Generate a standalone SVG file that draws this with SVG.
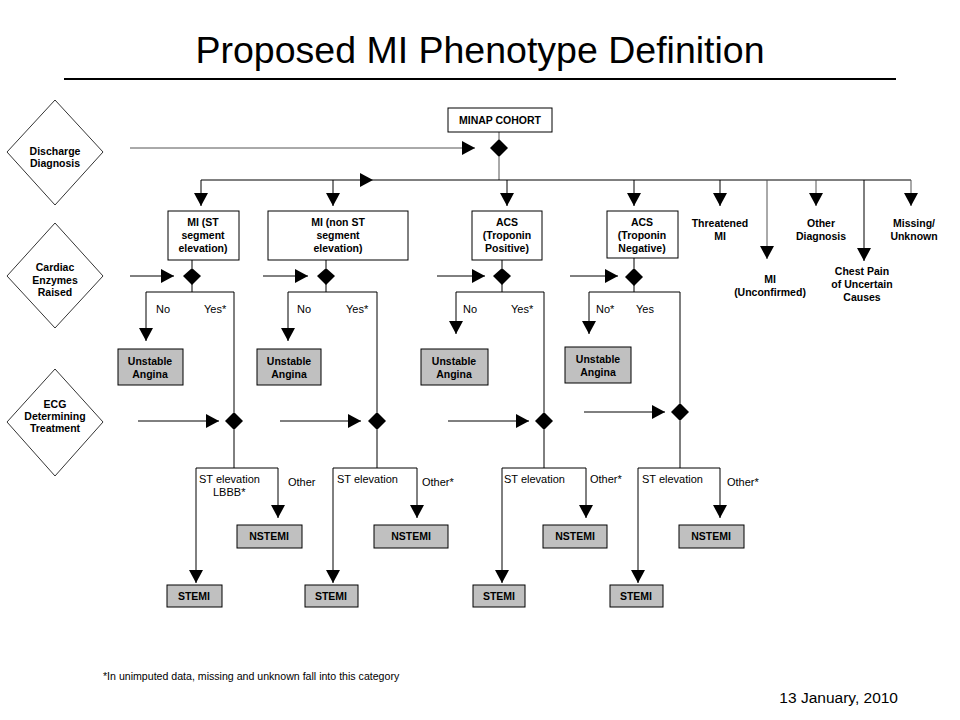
<svg xmlns="http://www.w3.org/2000/svg" width="960" height="720" viewBox="0 0 960 720">
<style>
text{font-family:"Liberation Sans",Arial,sans-serif;fill:#000}
.b{font-weight:bold;font-size:10.5px;text-anchor:middle}
.l{font-size:11px}
.box{fill:#fff;stroke:#000;stroke-width:1}
.g{fill:#c0c0c0;stroke:#000;stroke-width:1}
.dia{fill:#fff;stroke:#000;stroke-width:0.8}
.sd{fill:#000}
.c line,.c path{stroke:#000;stroke-width:1;fill:none}
.c .gr{stroke:#555}
</style>
<defs>
<marker id="a" markerUnits="userSpaceOnUse" markerWidth="13" markerHeight="14" refX="13" refY="7" orient="auto" viewBox="0 0 13 14">
<path d="M0,0 L13,7 L0,14 Z" fill="#000"/>
</marker>
</defs>
<rect width="960" height="720" fill="#fff"/>
<text x="480" y="63" style="font-size:37.5px;text-anchor:middle">Proposed MI Phenotype Definition</text>
<line x1="64" y1="79" x2="896" y2="79" stroke="#000" stroke-width="2"/>

<g id="legend-discharge"><polygon class="dia" points="55,100 103,152 55,205 7,152"/><text class="b" x="55" y="155">Discharge</text><text class="b" x="55" y="167">Diagnosis</text></g>
<g id="legend-enzymes"><polygon class="dia" points="55,223 103,276 55,328 7,276"/><text class="b" x="55" y="271">Cardiac</text><text class="b" x="55" y="284">Enzymes</text><text class="b" x="55" y="296">Raised</text></g>
<g id="legend-ecg"><polygon class="dia" points="55,369 103,422 55,476 7,422"/><text class="b" x="55" y="408">ECG</text><text class="b" x="55" y="420">Determining</text><text class="b" x="55" y="432">Treatment</text></g>

<g class="c" id="connectors">
<line x1="130" y1="148" x2="475" y2="148" class="gr" marker-end="url(#a)"/>
<line x1="499" y1="132" x2="499" y2="139" class="gr"/>
<line x1="499" y1="157" x2="499" y2="180" class="gr"/>
<line x1="201" y1="180" x2="373" y2="180" marker-end="url(#a)"/>
<line x1="373" y1="180" x2="911" y2="180"/>
<line x1="201" y1="180" x2="201" y2="206" marker-end="url(#a)"/>
<line x1="333" y1="180" x2="333" y2="206" marker-end="url(#a)"/>
<line x1="507" y1="180" x2="507" y2="206" marker-end="url(#a)"/>
<line x1="634" y1="180" x2="634" y2="206" marker-end="url(#a)"/>
<line x1="720" y1="180" x2="720" y2="206" marker-end="url(#a)"/>
<line x1="767" y1="180" x2="767" y2="259" class="gr" marker-end="url(#a)"/>
<line x1="816" y1="180" x2="816" y2="206" class="gr" marker-end="url(#a)"/>
<line x1="864" y1="180" x2="864" y2="261" marker-end="url(#a)"/>
<line x1="911" y1="180" x2="911" y2="206" class="gr" marker-end="url(#a)"/>

<line x1="130" y1="276" x2="174" y2="276" marker-end="url(#a)"/>
<line x1="263" y1="276" x2="308" y2="276" marker-end="url(#a)"/>
<line x1="437" y1="276" x2="485" y2="276" marker-end="url(#a)"/>
<line x1="570" y1="276" x2="618" y2="276" marker-end="url(#a)"/>

<line x1="192" y1="260" x2="192" y2="268"/>
<line x1="326" y1="260" x2="326" y2="268"/>
<line x1="502" y1="260" x2="502" y2="268"/>
<line x1="634" y1="258" x2="634" y2="268"/>

<path d="M192,284 V292 H146 V341" marker-end="url(#a)"/>
<path d="M192,292 H234 V412"/>
<path d="M326,284 V292 H288 V341" marker-end="url(#a)"/>
<path d="M326,292 H377 V412"/>
<path d="M502,284 V292 H456 V334" marker-end="url(#a)"/>
<path d="M502,292 H544 V412"/>
<path d="M634,285 V292 H589 V334" marker-end="url(#a)"/>
<path d="M634,292 H680 V403"/>

<line x1="138" y1="421" x2="219" y2="421" marker-end="url(#a)"/>
<line x1="280" y1="421" x2="361" y2="421" marker-end="url(#a)"/>
<line x1="448" y1="421" x2="529" y2="421" marker-end="url(#a)"/>
<line x1="584" y1="412" x2="665" y2="412" marker-end="url(#a)"/>

<path d="M234,430 V468 H196 V583" marker-end="url(#a)"/>
<path d="M234,468 H278 V518" marker-end="url(#a)"/>
<path d="M377,430 V468 H333 V583" marker-end="url(#a)"/>
<path d="M377,468 H417 V518" marker-end="url(#a)"/>
<path d="M544,430 V468 H502 V583" marker-end="url(#a)"/>
<path d="M544,468 H586 V518" marker-end="url(#a)"/>
<path d="M680,421 V468 H638 V583" marker-end="url(#a)"/>
<path d="M680,468 H720 V518" marker-end="url(#a)"/>
</g>

<g id="decisions">
<polygon class="sd" points="499,139 508,148 499,157 490,148"/>
<polygon class="sd" points="192,268 201,276 192,285 183,276"/>
<polygon class="sd" points="326,268 335,276 326,285 317,276"/>
<polygon class="sd" points="502,268 511,276 502,285 493,276"/>
<polygon class="sd" points="634,268 643,277 634,286 625,277"/>
<polygon class="sd" points="234,412 243,421 234,430 225,421"/>
<polygon class="sd" points="377,412 386,421 377,430 368,421"/>
<polygon class="sd" points="544,412 553,421 544,430 535,421"/>
<polygon class="sd" points="680,403 689,412 680,421 671,412"/>
</g>

<g id="minap"><rect class="box" x="448" y="108" width="104" height="24"/><text class="b" x="500" y="124">MINAP COHORT</text></g>
<g id="mi-st"><rect class="box" x="168" y="211" width="71" height="49"/><text class="b" x="203" y="226">MI (ST</text><text class="b" x="203" y="239">segment</text><text class="b" x="203" y="252">elevation)</text></g>
<g id="mi-nonst"><rect class="box" x="268" y="211" width="140" height="49"/><text class="b" x="338" y="226">MI (non ST</text><text class="b" x="338" y="239">segment</text><text class="b" x="338" y="252">elevation)</text></g>
<g id="acs-pos"><rect class="box" x="472" y="211" width="70" height="49"/><text class="b" x="507" y="226">ACS</text><text class="b" x="507" y="239">(Troponin</text><text class="b" x="507" y="252">Positive)</text></g>
<g id="acs-neg"><rect class="box" x="607" y="211" width="71" height="47"/><text class="b" x="642" y="226">ACS</text><text class="b" x="642" y="239">(Troponin</text><text class="b" x="642" y="252">Negative)</text></g>
<g id="threatened"><text class="b" x="720" y="227">Threatened</text><text class="b" x="720" y="240">MI</text></g>
<g id="mi-unconfirmed"><text class="b" x="770" y="283">MI</text><text class="b" x="770" y="296">(Unconfirmed)</text></g>
<g id="other-diagnosis"><text class="b" x="821" y="227">Other</text><text class="b" x="821" y="240">Diagnosis</text></g>
<g id="chest-pain"><text class="b" x="862" y="275">Chest Pain</text><text class="b" x="862" y="288">of Uncertain</text><text class="b" x="862" y="301">Causes</text></g>
<g id="missing"><text class="b" x="914" y="227">Missing/</text><text class="b" x="914" y="240">Unknown</text></g>

<g id="labels">
<text class="l" x="156" y="313">No</text><text class="l" x="204" y="313">Yes*</text>
<text class="l" x="297" y="313">No</text><text class="l" x="346" y="313">Yes*</text>
<text class="l" x="463" y="313">No</text><text class="l" x="511" y="313">Yes*</text>
<text class="l" x="596" y="313">No*</text><text class="l" x="636" y="313">Yes</text>
<text class="l" x="199" y="483">ST elevation</text><text class="l" x="213" y="496">LBBB*</text><text class="l" x="288" y="486">Other</text>
<text class="l" x="337" y="483">ST elevation</text><text class="l" x="422" y="486">Other*</text>
<text class="l" x="504" y="483">ST elevation</text><text class="l" x="590" y="483">Other*</text>
<text class="l" x="642" y="483">ST elevation</text><text class="l" x="727" y="486">Other*</text>
</g>

<g id="ua1"><rect class="g" x="118" y="349" width="65" height="36"/><text class="b" x="150" y="365">Unstable</text><text class="b" x="150" y="378">Angina</text></g>
<g id="ua2"><rect class="g" x="257" y="349" width="64" height="36"/><text class="b" x="289" y="365">Unstable</text><text class="b" x="289" y="378">Angina</text></g>
<g id="ua3"><rect class="g" x="421" y="349" width="67" height="36"/><text class="b" x="454" y="365">Unstable</text><text class="b" x="454" y="378">Angina</text></g>
<g id="ua4"><rect class="g" x="565" y="347" width="66" height="36"/><text class="b" x="598" y="363">Unstable</text><text class="b" x="598" y="376">Angina</text></g>

<g id="nstemi1"><rect class="g" x="237" y="525" width="65" height="23"/><text class="b" x="269" y="540">NSTEMI</text></g>
<g id="nstemi2"><rect class="g" x="374" y="525" width="74" height="23"/><text class="b" x="411" y="540">NSTEMI</text></g>
<g id="nstemi3"><rect class="g" x="543" y="525" width="64" height="23"/><text class="b" x="575" y="540">NSTEMI</text></g>
<g id="nstemi4"><rect class="g" x="679" y="525" width="65" height="23"/><text class="b" x="711" y="540">NSTEMI</text></g>
<g id="stemi1"><rect class="g" x="167" y="585" width="55" height="22"/><text class="b" x="194" y="600">STEMI</text></g>
<g id="stemi2"><rect class="g" x="305" y="585" width="53" height="22"/><text class="b" x="331" y="600">STEMI</text></g>
<g id="stemi3"><rect class="g" x="473" y="585" width="52" height="22"/><text class="b" x="499" y="600">STEMI</text></g>
<g id="stemi4"><rect class="g" x="610" y="585" width="53" height="22"/><text class="b" x="636" y="600">STEMI</text></g>

<text x="103" y="680" style="font-size:10.6px">*In unimputed data, missing and unknown fall into this category</text>
<text x="898" y="703" style="font-size:15.5px;text-anchor:end">13 January, 2010</text>
</svg>
